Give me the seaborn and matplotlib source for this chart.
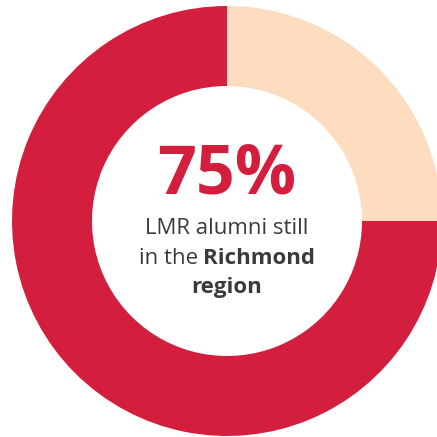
import matplotlib
matplotlib.use("Agg")
import matplotlib.pyplot as plt
import seaborn as sns

# data
labels = ["Left the region", "Still in Richmond region"]
shares = [25, 75]
colors = ["#FDDCBF", "#D31E3E"]
headline = "75%"
line1 = "LMR alumni still"
line2_regular = "in the "
line2_bold = "Richmond"
line3 = "region"

sns.set_theme(style="white")
plt.rcParams["font.family"] = ["Open Sans", "DejaVu Sans"]

fig = plt.figure(figsize=(4.37, 4.37), dpi=100)
ax = fig.add_axes([0, 0, 1, 1])

# pixel-ish coordinates: ring centre sits at (227, 221) from the top-left
ax.pie(shares, colors=colors, radius=215, startangle=90, counterclock=False,
       wedgeprops=dict(width=80, linewidth=0), center=(0, 0))
ax.set_xlim(-227, 437 - 227)
ax.set_ylim(-(437 - 221), 221)
ax.set_aspect("equal")
ax.axis("off")

grey = "#3A3A3A"
ax.text(0, 45, headline, ha="center", va="center", fontsize=49, fontweight="bold",
        color=colors[1])
ax.text(0, -8, line1, ha="center", va="center", fontsize=16, color=grey)
t_reg = ax.text(0, -37, line2_regular, ha="left", va="center", fontsize=16, color=grey)
t_bold = ax.text(0, -37, line2_bold, ha="left", va="center", fontsize=16,
                 fontweight="bold", color=grey)
ax.text(0, -66, line3, ha="center", va="center", fontsize=16, fontweight="bold", color=grey)

# centre the mixed-weight second line
fig.canvas.draw()
r = fig.canvas.get_renderer()
inv = ax.transData.inverted()
def width(t):
    bb = t.get_window_extent(r)
    (x0, _), (x1, _) = inv.transform([(bb.x0, bb.y0), (bb.x1, bb.y1)])
    return x1 - x0
w1, w2 = width(t_reg), width(t_bold)
start = -(w1 + w2) / 2
t_reg.set_x(start)
t_bold.set_x(start + w1)

fig.savefig("out.png", dpi=100)
